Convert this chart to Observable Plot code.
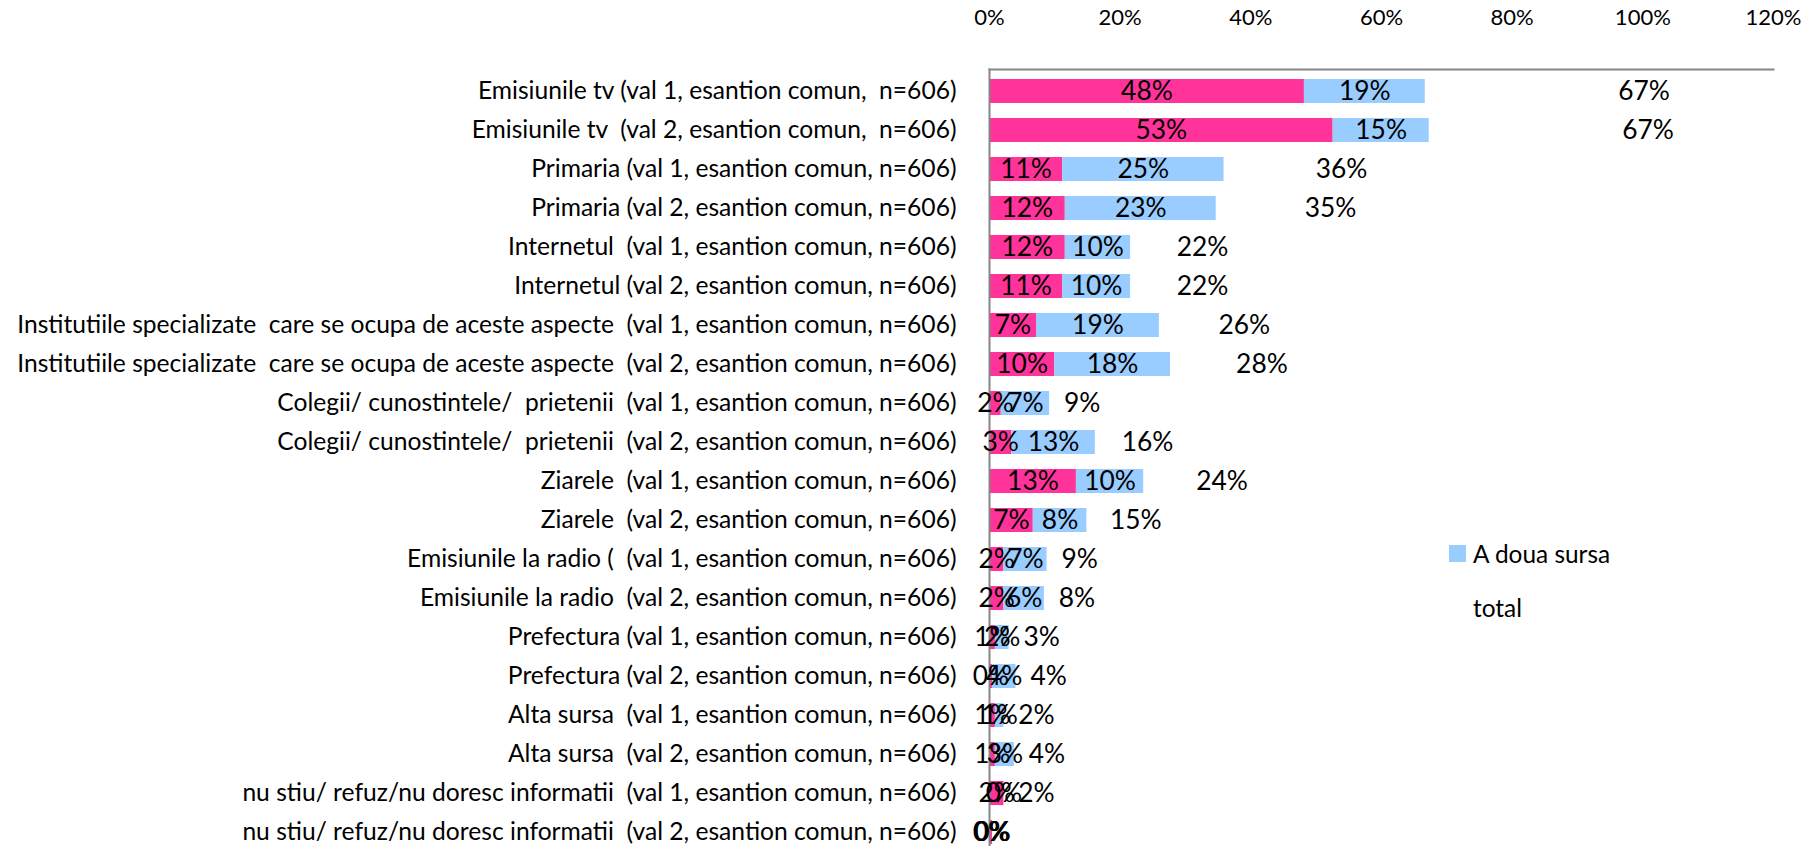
<!DOCTYPE html>
<html>
<head>
<meta charset="utf-8">
<script src="https://cdn.jsdelivr.net/npm/d3@7"></script>
<script src="https://cdn.jsdelivr.net/npm/@observablehq/plot@0.6"></script>
<style>
  html, body { margin: 0; padding: 0; background: #fff; }
  #wrap { position: relative; width: 1806px; height: 846px; overflow: hidden; }
  #wrap svg text { white-space: pre; }
  .legend { position: absolute; font-family: Lato, sans-serif; color: #000; white-space: pre; }
  .legend .sw { position: absolute; width: 17px; height: 17px; background: #99CCFF; }
</style>
</head>
<body>
<div id="wrap"></div>
<script>
const categories = [
  "Emisiunile tv (val 1, esantion comun,  n=606)",
  "Emisiunile tv  (val 2, esantion comun,  n=606)",
  "Primaria (val 1, esantion comun, n=606)",
  "Primaria (val 2, esantion comun, n=606)",
  "Internetul  (val 1, esantion comun, n=606)",
  "Internetul (val 2, esantion comun, n=606)",
  "Institutiile specializate  care se ocupa de aceste aspecte  (val 1, esantion comun, n=606)",
  "Institutiile specializate  care se ocupa de aceste aspecte  (val 2, esantion comun, n=606)",
  "Colegii/ cunostintele/  prietenii  (val 1, esantion comun, n=606)",
  "Colegii/ cunostintele/  prietenii  (val 2, esantion comun, n=606)",
  "Ziarele  (val 1, esantion comun, n=606)",
  "Ziarele  (val 2, esantion comun, n=606)",
  "Emisiunile la radio (  (val 1, esantion comun, n=606)",
  "Emisiunile la radio  (val 2, esantion comun, n=606)",
  "Prefectura (val 1, esantion comun, n=606)",
  "Prefectura (val 2, esantion comun, n=606)",
  "Alta sursa  (val 1, esantion comun, n=606)",
  "Alta sursa  (val 2, esantion comun, n=606)",
  "nu stiu/ refuz/nu doresc informatii  (val 1, esantion comun, n=606)",
  "nu stiu/ refuz/nu doresc informatii  (val 2, esantion comun, n=606)"
];
const primaSursa = [48.2, 52.6, 11.2, 11.6, 11.6, 11.2, 7.2, 10.0, 1.8, 3.4, 13.3, 6.7, 2.2, 2.2, 0.9, 0.45, 0.9, 0.9, 2.2, 0.45];
const aDouaSursa = [18.5, 14.7, 24.7, 23.1, 10.0, 10.4, 18.8, 17.7, 7.4, 12.8, 10.3, 8.2, 6.6, 6.2, 2.1, 3.6, 1.3, 2.9, 0, 0];
const total      = [67, 67, 36, 35, 22, 22, 26, 28, 9, 16, 24, 15, 9, 8, 3, 4, 2, 4, 2, 0];
const xTicks = [0, 20, 40, 60, 80, 100, 120];
const legendLabels = ["A doua sursa", "total"];

const FONT = "Lato";
function fit(text, targetW) {
  const ctx = document.createElement("canvas").getContext("2d");
  ctx.font = `100px ${FONT}`;
  return 100 * targetW / ctx.measureText(text).width;
}
const catFont = fit(categories[6], 940);
const tickFont = fit("100%", 56);
const dataFont = fit("48%", 51.7);
const legendFont = fit(legendLabels[0], 138);

const rows = categories.map((c, i) => ({
  cat: c, p: primaSursa[i], b: aDouaSursa[i], t: total[i], s: primaSursa[i] + aDouaSursa[i]
}));
const pct = v => Math.round(v) + "%";

const chart = Plot.plot({
  width: 1806,
  height: 846,
  marginTop: 69,
  marginBottom: -7,
  marginLeft: 989,
  marginRight: 33,
  x: { domain: [0, 120] },
  y: { domain: categories, paddingInner: 0.39, paddingOuter: 0.195, label: null },
  style: { fontFamily: FONT, color: "#000", background: "#fff", overflow: "visible" },
  marks: [
    Plot.barX(rows, { y: "cat", x1: 0, x2: "p", fill: "#FF3399" }),
    Plot.barX(rows, { y: "cat", x1: "p", x2: "s", fill: "#99CCFF" }),
    Plot.frame({ anchor: "top", stroke: "#868686", strokeWidth: 2 }),
    Plot.frame({ anchor: "left", stroke: "#868686", strokeWidth: 2 }),
    Plot.text(rows, { y: "cat", x: d => d.p / 2, text: d => pct(d.p), fontSize: dataFont, fill: "#000" }),
    Plot.text(rows, { y: "cat", x: d => d.p + d.b / 2, text: d => pct(d.b), fontSize: dataFont, fill: "#000" }),
    Plot.text(rows, { y: "cat", x: d => d.s + (d.t >= 1 ? Math.max(d.t / 2, 5) : d.t / 2), text: d => pct(d.t), fontSize: dataFont, fill: "#000" }),
    Plot.axisX({ anchor: "top", ticks: xTicks, tickFormat: d => d + "%", tickSize: 0, tickPadding: 69 - 25 - 0.65 * tickFont + 15, fontSize: tickFont, label: null }),
    Plot.axisY({ anchor: "left", tickSize: 0, tickPadding: 33, fontSize: catFont, label: null })
  ]
});

const wrap = document.getElementById("wrap");
wrap.appendChild(chart);

const legend = document.createElement("div");
legend.className = "legend";
legend.style.left = "1449px";
legend.style.top = "530px";
legend.style.fontSize = legendFont + "px";
legend.innerHTML = `
  <div style="position:absolute;left:0;top:15px;" class="sw"></div>
  <div style="position:absolute;left:24px;top:0;height:48px;line-height:48px;">${legendLabels[0]}</div>
  <div style="position:absolute;left:24px;top:54px;height:48px;line-height:48px;">${legendLabels[1]}</div>
`;
wrap.appendChild(legend);
</script>
</body>
</html>
